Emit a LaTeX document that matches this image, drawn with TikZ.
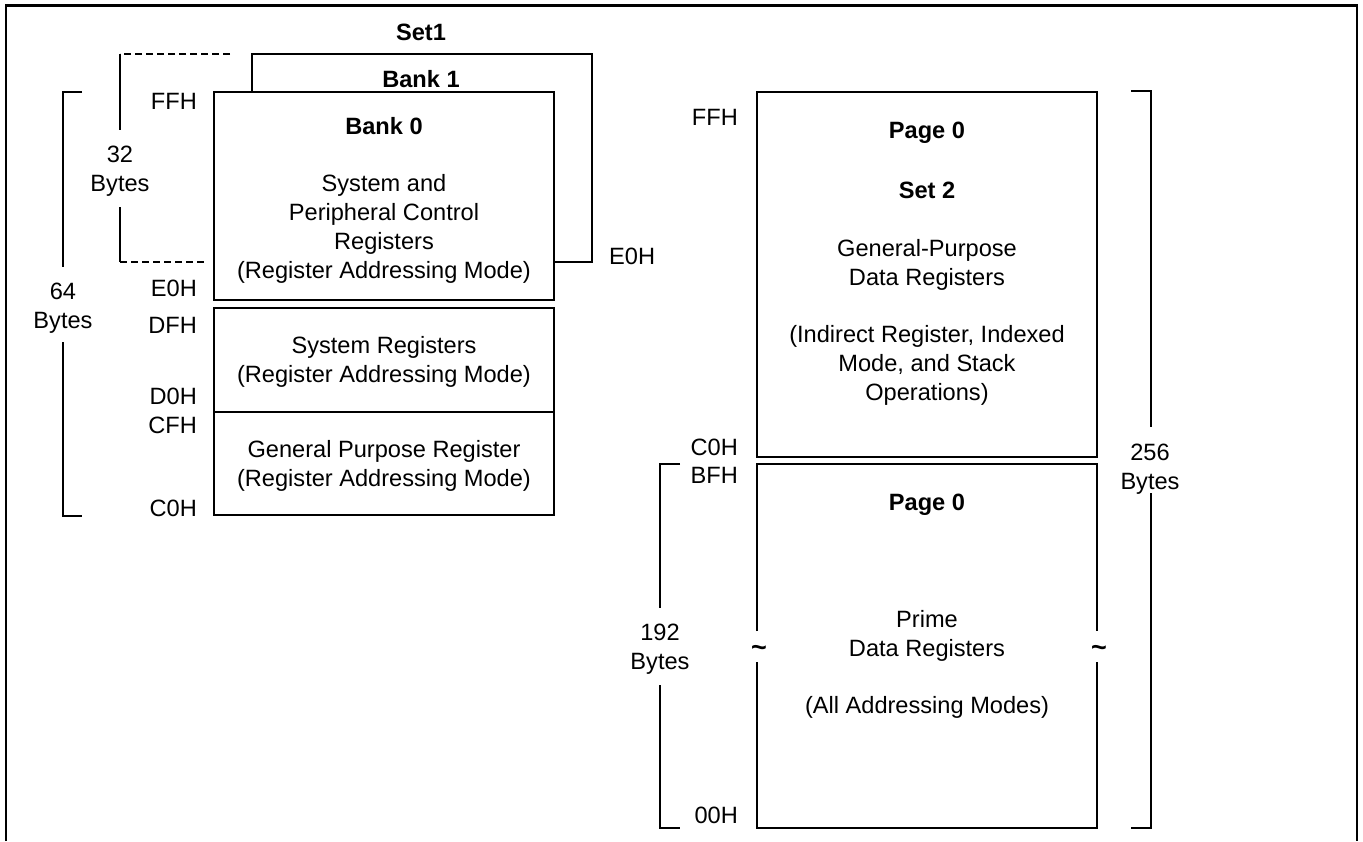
\documentclass[tikz,border=0pt]{standalone}
\usepackage{fontspec}
\setmainfont{Liberation Sans}
\begin{document}
\begin{tikzpicture}[x=1pt,y=-1pt,
  lbl/.style={font=\fontsize{23.6}{29}\selectfont, inner sep=0pt, align=center},
  bl/.style={lbl, font=\fontsize{23.6}{29}\selectfont\bfseries},
  addr/.style={lbl, anchor=east},
  tilde/.style={lbl, anchor=base, font=\fontsize{27}{29}\selectfont\bfseries},
  frameline/.style={line width=2.5pt},
  boxline/.style={line width=1.4pt},
  dashline/.style={line width=1.4pt, dash pattern=on 7pt off 4pt},
]
\useasboundingbox (0,0) rectangle (1363,841);
% outer frame (open at the bottom)
\draw[frameline] (6,841) -- (6,5.5) -- (1357,5.5) -- (1357,841);

% ---------- left: Set 1 ----------
\node[bl] (set1) at (421,32) {Set1};
\draw[boxline, fill=white] (252,54) rectangle (592,262);
\node[bl] (bank1) at (421,79) {Bank 1};
\draw[boxline, fill=white] (214,92) rectangle (554,300);
\node[bl] (bank0) at (384,126) {Bank 0};
\node[lbl] (bank0txt) at (384,228.5) {System and\\Peripheral Control\\Registers\\(Register Addressing Mode)};
\draw[boxline] (214,308) rectangle (554,515);
\draw[boxline] (214,412) -- (554,412);
\node[lbl] (sysreg) at (384,362) {System Registers\\(Register Addressing Mode)};
\node[lbl] (gpreg) at (384,466) {General Purpose Register\\(Register Addressing Mode)};

\node[addr] (ffhA) at (197,101) {FFH};
\node[addr] (e0hA) at (197,288) {E0H};
\node[addr] (dfh) at (197,325) {DFH};
\node[addr] (d0h) at (197,396) {D0H};
\node[addr] (cfh) at (197,425) {CFH};
\node[addr] (c0hA) at (197,508) {C0H};
\node[lbl, anchor=west] (e0hB) at (609,256) {E0H};

% 32 bytes bracket
\node[lbl] (b32) at (120,171) {32\\Bytes};
\draw[dashline] (230,54) -- (120,54);
\draw[boxline] (120,54) -- (120,130);
\draw[boxline] (120,207) -- (120,262);
\draw[dashline] (120,262) -- (205,262);

% 64 bytes bracket
\node[lbl] (b64) at (63,308) {64\\Bytes};
\draw[boxline] (82,92) -- (63,92) -- (63,267);
\draw[boxline] (63,342) -- (63,516) -- (82,516);

% ---------- right: Page 0 ----------
\draw[boxline] (757,92) rectangle (1097,457);
\node[bl] (page0A) at (927,133) {Page 0};
\node[bl] (set2) at (927,190) {Set 2};
\node[lbl] (gpdr) at (927,264.5) {General-Purpose\\Data Registers};
\node[lbl] (indir) at (927,365.5) {(Indirect Register, Indexed\\Mode, and Stack\\Operations)};

\draw[boxline] (757,631) -- (757,464) -- (1097,464) -- (1097,631);
\draw[boxline] (757,662) -- (757,828) -- (1097,828) -- (1097,662);
\node[tilde] (tilL) at (759,656) {\textasciitilde};
\node[tilde] (tilR) at (1099,656) {\textasciitilde};
\node[bl] (page0B) at (927,505) {Page 0};
\node[lbl] (prime) at (927,636) {Prime\\Data Registers};
\node[lbl] (allmodes) at (927,707) {(All Addressing Modes)};

\node[addr] (ffhB) at (738,117) {FFH};
\node[addr] (c0hB) at (738,447) {C0H};
\node[addr] (bfh) at (738,475) {BFH};
\node[addr] (h00) at (738,815) {00H};

% 192 bytes bracket
\node[lbl] (b192) at (660,649.5) {192\\Bytes};
\draw[boxline] (680,464) -- (660,464) -- (660,608);
\draw[boxline] (660,685) -- (660,828) -- (680,828);

% 256 bytes bracket
\node[lbl] (b256) at (1150,469.5) {256\\Bytes};
\draw[boxline] (1131,91) -- (1151,91) -- (1151,427);
\draw[boxline] (1151,493) -- (1151,828) -- (1131,828);
\end{tikzpicture}
\end{document}
